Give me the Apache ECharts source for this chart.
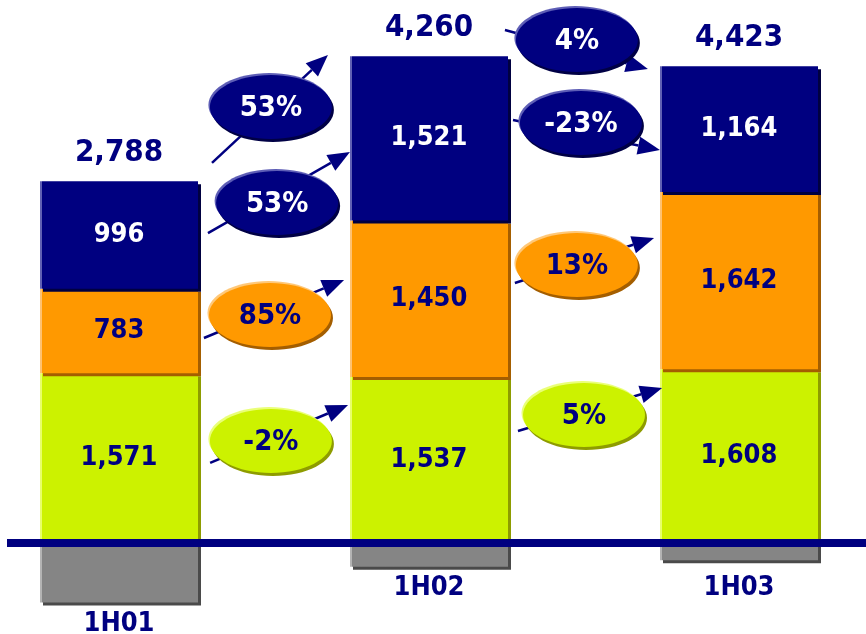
<!DOCTYPE html>
<html>
<head>
<meta charset="utf-8">
<script src="https://cdn.jsdelivr.net/npm/echarts@6/dist/echarts.min.js"></script>
<style>
  html, body { margin: 0; padding: 0; background: #ffffff; }
  #chart { width: 866px; height: 634px; }
</style>
</head>
<body>
<div id="chart"></div>
<script>
// Half-year figures, stacked bottom to top: lime, orange, navy
const categories = ['1H01', '1H02', '1H03'];
const plinth = [-550, -220, -160];      // grey footing below the axis
const lime   = [1571, 1537, 1608];
const orange = [783, 1450, 1642];
const navy   = [996, 1521, 1164];
const totals = [2788, 4260, 4423];

// Colours and type
const NAVY = '#000080', ORANGE = '#FF9900', LIME = '#CCF200', GREY = '#858585';
const FONT = '"DejaVu Sans Condensed", "DejaVu Sans", sans-serif';

const fmt = v => String(v).replace(/\B(?=(\d{3})+(?!\d))/g, ',');
const pct = (a, b) => Math.round((b / a - 1) * 100) + '%';

// Growth bubbles between neighbouring half-years.
// sx/ex/bx: horizontal offset from the left category centre, in band widths;
// sy/ey/by: heights in axis units for the arrow tail, arrow tip and bubble.
const arrowLayout = [
  { i: 0, kind: 'total',  sx: 0.300, sy: 3519, ex: 0.674, ey: 4519, bx: 0.490, by: 4037 },
  { i: 0, kind: 'navy',   sx: 0.287, sy: 2870, ex: 0.745, ey: 3620, bx: 0.510, by: 3148 },
  { i: 0, kind: 'orange', sx: 0.274, sy: 1898, ex: 0.726, ey: 2435, bx: 0.487, by: 2111 },
  { i: 0, kind: 'lime',   sx: 0.294, sy: 741,  ex: 0.739, ey: 1278, bx: 0.490, by: 944 },
  { i: 1, kind: 'total',  sx: 0.245, sy: 4750, ex: 0.706, ey: 4389, bx: 0.477, by: 4657 },
  { i: 1, kind: 'navy',   sx: 0.271, sy: 3917, ex: 0.745, ey: 3639, bx: 0.490, by: 3889 },
  { i: 1, kind: 'orange', sx: 0.277, sy: 2407, ex: 0.726, ey: 2824, bx: 0.477, by: 2574 },
  { i: 1, kind: 'lime',   sx: 0.287, sy: 1037, ex: 0.752, ey: 1435, bx: 0.500, by: 1185 }
];
const seriesByKind = { total: totals, navy: navy, orange: orange, lime: lime };
const bubbleStyle = {
  total:  { fill: NAVY,   light: '#5E5EB6', dark: '#000045', text: '#FFFFFF' },
  navy:   { fill: NAVY,   light: '#5E5EB6', dark: '#000045', text: '#FFFFFF' },
  orange: { fill: ORANGE, light: '#FFC878', dark: '#A45E00', text: NAVY },
  lime:   { fill: LIME,   light: '#EAFF78', dark: '#8E9C00', text: NAVY }
};
const growthText = arrowLayout.map(a => {
  const s = seriesByKind[a.kind];
  return pct(s[a.i], s[a.i + 1]);
});

const catLabelGap = [8, 8, 14];

// Flat fill with a thin lighter strip on the left edge
function faceFill(base, light) {
  return new echarts.graphic.LinearGradient(0, 0, 1, 0, [
    { offset: 0, color: light },
    { offset: 0.014, color: light },
    { offset: 0.0145, color: base },
    { offset: 1, color: base }
  ]);
}

function segment(name, values, base, light, shadow, textColor) {
  return {
    name: name,
    type: 'bar',
    stack: 'half',
    barWidth: 158,
    silent: true,
    data: values,
    itemStyle: {
      color: faceFill(base, light),
      shadowColor: shadow,
      shadowBlur: 0,
      shadowOffsetX: 3,
      shadowOffsetY: 3
    },
    label: {
      show: true,
      position: 'inside',
      formatter: p => fmt(p.value),
      color: textColor,
      fontFamily: FONT,
      fontWeight: 'bold',
      fontSize: 27
    }
  };
}

function renderArrow(params, api) {
  const a = arrowLayout[params.dataIndex];
  const st = bubbleStyle[a.kind];
  const band = api.size([1, 0])[0];
  const P = (fx, v) => {
    const c = api.coord([a.i, v]);
    return [c[0] + fx * band, c[1]];
  };
  const s = P(a.sx, a.sy), e = P(a.ex, a.ey), b = P(a.bx, a.by);
  const dx = e[0] - s[0], dy = e[1] - s[1];
  const len = Math.sqrt(dx * dx + dy * dy);
  const ux = dx / len, uy = dy / len;
  const L = 22, W = 9;
  const bc = [e[0] - ux * L, e[1] - uy * L];
  const head = [e, [bc[0] - uy * W, bc[1] + ux * W], [bc[0] + uy * W, bc[1] - ux * W]];
  const rx = 61, ry = 32;
  return {
    type: 'group',
    children: [
      { type: 'line', shape: { x1: s[0], y1: s[1], x2: bc[0], y2: bc[1] },
        style: { stroke: NAVY, lineWidth: 2.5 } },
      { type: 'polygon', shape: { points: head }, style: { fill: NAVY } },
      { type: 'ellipse', shape: { cx: b[0] - 1.5, cy: b[1] - 2, rx: rx, ry: ry }, style: { fill: st.light } },
      { type: 'ellipse', shape: { cx: b[0] + 2, cy: b[1] + 3, rx: rx, ry: ry }, style: { fill: st.dark } },
      { type: 'ellipse', shape: { cx: b[0], cy: b[1], rx: rx, ry: ry }, style: { fill: st.fill } },
      { type: 'text', style: {
          text: growthText[params.dataIndex], x: b[0], y: b[1] + 1,
          align: 'center', verticalAlign: 'middle',
          fill: st.text, font: 'bold 29px ' + FONT } }
    ]
  };
}

const chart = echarts.init(document.getElementById('chart'), null, { renderer: 'canvas' });

const stackTop = categories.map((_, i) => lime[i] + orange[i] + navy[i]);

chart.setOption({
  animation: false,
  backgroundColor: '#ffffff',
  // The three 310px slots run a little past both edges of the canvas
  grid: { left: -36, width: 930, top: 24.6, height: 604.8, outerBoundsMode: 'none', containLabel: false },
  xAxis: {
    type: 'category',
    data: categories,
    axisLine: { show: false },
    axisTick: { show: false },
    axisLabel: { show: false },
    splitLine: { show: false }
  },
  yAxis: {
    type: 'value',
    min: -800,
    max: 4800,
    interval: 400,
    show: false,
    splitLine: { show: false }
  },
  series: [
    {
      name: 'footing',
      type: 'bar',
      stack: 'half',
      barWidth: 158,
      silent: true,
      data: plinth.map((v, i) => ({ value: v, label: { distance: catLabelGap[i] } })),
      itemStyle: {
        color: faceFill(GREY, '#B4B4B4'),
        shadowColor: '#4A4A4A',
        shadowBlur: 0,
        shadowOffsetX: 3,
        shadowOffsetY: 3
      },
      label: {
        show: true,
        position: 'bottom',
        formatter: p => categories[p.dataIndex],
        color: NAVY,
        fontFamily: FONT,
        fontWeight: 'bold',
        fontSize: 27
      }
    },
    segment('lime', lime, LIME, '#E8FF6A', '#8E9C00', NAVY),
    segment('orange', orange, ORANGE, '#FFC270', '#A45E00', NAVY),
    segment('navy', navy, NAVY, '#6060B4', '#000040', '#FFFFFF'),
    {
      name: 'total',
      type: 'scatter',
      silent: true,
      symbolSize: 1,
      itemStyle: { color: 'rgba(0,0,0,0)', opacity: 1 },
      data: stackTop,
      label: {
        show: true,
        position: 'top',
        distance: 12,
        formatter: p => fmt(totals[p.dataIndex]),
        color: NAVY,
        opacity: 1,
        fontFamily: FONT,
        fontWeight: 'bold',
        fontSize: 31
      },
      z: 6
    },
    {
      name: 'growth',
      type: 'custom',
      silent: true,
      renderItem: renderArrow,
      data: arrowLayout.map(a => [a.i, a.by]),
      encode: { x: 0, y: 1 },
      z: 5
    }
  ]
});

// Navy base rule along the zero line
const y0 = chart.convertToPixel({ yAxisIndex: 0 }, 0);
chart.setOption({
  graphic: [{
    type: 'line',
    z: 10,
    silent: true,
    shape: { x1: 7, y1: y0, x2: 866, y2: y0 },
    style: { stroke: NAVY, lineWidth: 8 }
  }]
});
</script>
</body>
</html>
